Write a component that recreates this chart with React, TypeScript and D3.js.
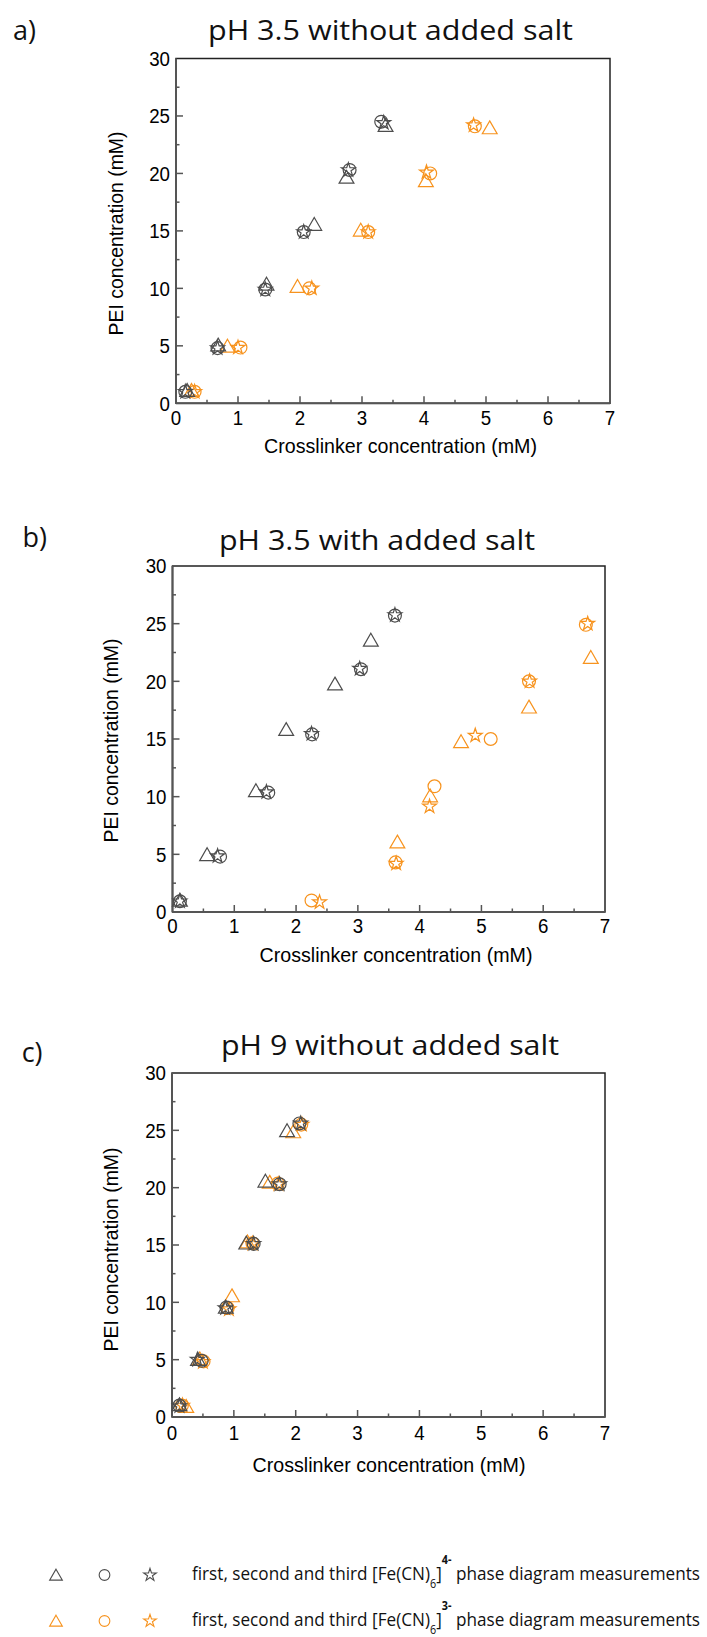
import React from "react";
import * as d3 from "d3";

type Pt = [number, number];

const xTicks = [0, 1, 2, 3, 4, 5, 6, 7];
const yTicks = [0, 5, 10, 15, 20, 25, 30];
const xMinorTicks = [0.5, 1.5, 2.5, 3.5, 4.5, 5.5, 6.5];
const yMinorTicks = [2.5, 7.5, 12.5, 17.5, 22.5, 27.5];

const panelLetters = ["a)", "b)", "c)"];
const panelTitles = ["pH 3.5 without added salt", "pH 3.5 with added salt", "pH 9 without added salt"];
const xAxisTitle = "Crosslinker concentration (mM)";
const yAxisTitle = "PEI concentration (mM)";

// a) pH 3.5 without added salt
const aFe4Tri: Pt[] = [[0.18, 1.15], [0.68, 5.1], [1.46, 10.4], [2.23, 15.6], [2.75, 19.7], [3.38, 24.2]];
const aFe4Circ: Pt[] = [[0.15, 1.0], [0.67, 4.8], [1.44, 9.9], [2.06, 14.9], [2.8, 20.3], [3.31, 24.5]];
const aFe4Star: Pt[] = [[0.15, 1.0], [0.67, 4.8], [1.44, 9.9], [2.06, 14.9], [2.78, 20.3], [3.35, 24.4]];
const aFe3Tri: Pt[] = [[0.25, 1.15], [0.83, 5.0], [1.96, 10.2], [2.98, 15.1], [4.03, 19.4], [5.06, 24.0]];
const aFe3Circ: Pt[] = [[0.3, 1.0], [1.04, 4.85], [2.15, 10.0], [3.1, 14.9], [4.1, 20.0], [4.82, 24.1]];
const aFe3Star: Pt[] = [[0.3, 1.0], [1.0, 4.85], [2.19, 10.0], [3.1, 14.9], [4.04, 20.1], [4.8, 24.2]];

// b) pH 3.5 with added salt
const bFe4Tri: Pt[] = [[0.12, 1.05], [0.56, 5.0], [1.35, 10.55], [1.84, 15.85], [2.63, 19.8], [3.21, 23.6]];
const bFe4Circ: Pt[] = [[0.12, 0.93], [0.77, 4.8], [1.55, 10.35], [2.26, 15.4], [3.05, 21.05], [3.6, 25.7]];
const bFe4Star: Pt[] = [[0.12, 0.93], [0.73, 4.85], [1.52, 10.4], [2.25, 15.45], [3.03, 21.1], [3.6, 25.75]];
const bFe3Tri: Pt[] = [[3.64, 6.1], [4.17, 10.1], [4.67, 14.8], [5.77, 17.8], [6.77, 22.1]];
const bFe3Circ: Pt[] = [[2.25, 1.0], [3.61, 4.3], [4.24, 10.9], [5.15, 15.0], [5.77, 20.0], [6.69, 24.9]];
const bFe3Star: Pt[] = [[2.38, 0.85], [3.62, 4.2], [4.16, 9.15], [4.9, 15.3], [5.78, 20.0], [6.72, 25.0]];

// c) pH 9 without added salt
const cFe4Tri: Pt[] = [[0.12, 1.1], [0.42, 5.05], [0.87, 9.6], [1.2, 15.2], [1.51, 20.6], [1.86, 25.0]];
const cFe4Circ: Pt[] = [[0.12, 1.0], [0.48, 4.9], [0.88, 9.55], [1.32, 15.1], [1.74, 20.3], [2.06, 25.6]];
const cFe4Star: Pt[] = [[0.12, 0.95], [0.41, 5.0], [0.86, 9.5], [1.32, 15.1], [1.74, 20.3], [2.08, 25.6]];
const cFe3Tri: Pt[] = [[0.23, 0.95], [0.45, 5.1], [0.97, 10.6], [1.22, 15.3], [1.58, 20.5], [1.96, 24.9]];
const cFe3Circ: Pt[] = [[0.16, 1.0], [0.51, 4.85], [0.9, 9.5], [1.3, 15.15], [1.71, 20.35], [2.09, 25.5]];
const cFe3Star: Pt[] = [[0.17, 1.0], [0.5, 4.8], [0.92, 9.4], [1.3, 15.1], [1.72, 20.3], [2.1, 25.5]];

const legendText = ["first, second and third [Fe(CN)", "6", "]", " phase diagram measurements"];
const legendCharges = ["4-", "3-"];

const GRAY = "#4d4d4d";
const ORANGE = "#f7931e";

const shapes = {
  tri: d3.symbol().type(d3.symbolTriangle).size(95)(),
  circ: d3.symbol().type(d3.symbolCircle).size(130)(),
  star: d3.symbol().type(d3.symbolStar).size(60)(),
};
const legendShapes = {
  tri: d3.symbol().type(d3.symbolTriangle).size(70)(),
  circ: d3.symbol().type(d3.symbolCircle).size(90)(),
  star: d3.symbol().type(d3.symbolStar).size(50)(),
};

type Shape = "tri" | "circ" | "star";
interface Series { data: Pt[]; shape: Shape; color: string }

const panelSeries: Series[][] = [
  [
    { data: aFe3Tri, shape: "tri", color: ORANGE },
    { data: aFe3Circ, shape: "circ", color: ORANGE },
    { data: aFe3Star, shape: "star", color: ORANGE },
    { data: aFe4Tri, shape: "tri", color: GRAY },
    { data: aFe4Circ, shape: "circ", color: GRAY },
    { data: aFe4Star, shape: "star", color: GRAY },
  ],
  [
    { data: bFe3Tri, shape: "tri", color: ORANGE },
    { data: bFe3Circ, shape: "circ", color: ORANGE },
    { data: bFe3Star, shape: "star", color: ORANGE },
    { data: bFe4Tri, shape: "tri", color: GRAY },
    { data: bFe4Circ, shape: "circ", color: GRAY },
    { data: bFe4Star, shape: "star", color: GRAY },
  ],
  [
    { data: cFe3Tri, shape: "tri", color: ORANGE },
    { data: cFe3Circ, shape: "circ", color: ORANGE },
    { data: cFe3Star, shape: "star", color: ORANGE },
    { data: cFe4Tri, shape: "tri", color: GRAY },
    { data: cFe4Circ, shape: "circ", color: GRAY },
    { data: cFe4Star, shape: "star", color: GRAY },
  ],
];

// page layout of the three panels
const layout = [
  { left: 176, right: 610, top: 58.5, bottom: 403.3, letterX: 13, letterY: 40, titleX: 208, titleW: 365, titleY: 40, ylabX: 123, ylabY: 233.5, xlabX: 400.5, xlabY: 453, tickDy: 22 },
  { left: 172.5, right: 605, top: 566, bottom: 912, letterX: 22.6, letterY: 547, titleX: 219, titleW: 316, titleY: 550, ylabX: 118, ylabY: 740.5, xlabX: 396, xlabY: 961.7, tickDy: 21 },
  { left: 172, right: 605, top: 1073, bottom: 1417, letterX: 21.7, letterY: 1062, titleX: 221, titleW: 338, titleY: 1055, ylabX: 118, ylabY: 1249.5, xlabX: 389, xlabY: 1471.7, tickDy: 23 },
];

const tickFont = "'Liberation Sans', Arial, sans-serif";
const titleFont = "'Open Sans', 'Noto Sans', sans-serif";

function Panel({ idx }: { idx: number }) {
  const L = layout[idx];
  const x = d3.scaleLinear().domain([0, 7]).range([L.left, L.right]);
  const y = d3.scaleLinear().domain([0, 30]).range([L.bottom, L.top]);
  return (
    <g>
      <text x={L.letterX} y={L.letterY} fontFamily={titleFont} fontSize={27} fill="#111">{panelLetters[idx]}</text>
      <text x={L.titleX} y={L.titleY} fontFamily={titleFont} fontSize={27} fill="#111"
        textLength={L.titleW} lengthAdjust="spacingAndGlyphs">{panelTitles[idx]}</text>

      <rect x={L.left} y={L.top} width={L.right - L.left} height={L.bottom - L.top} fill="none" stroke="#222" strokeWidth={1.5} />
      <line x1={L.left} x2={L.left} y1={L.top} y2={L.bottom} stroke="#555" strokeWidth={2} />
      <line x1={L.left} x2={L.right} y1={L.bottom} y2={L.bottom} stroke="#555" strokeWidth={2} />

      {xTicks.slice(1, -1).map((t) => (
        <line key={"xt" + t} x1={x(t)} x2={x(t)} y1={L.bottom} y2={L.bottom - 7} stroke="#555" strokeWidth={1.5} />
      ))}
      {xMinorTicks.map((t) => (
        <line key={"xm" + t} x1={x(t)} x2={x(t)} y1={L.bottom} y2={L.bottom - 3.5} stroke="#555" strokeWidth={1.5} />
      ))}
      {yTicks.slice(1, -1).map((t) => (
        <line key={"yt" + t} x1={L.left} x2={L.left + 7} y1={y(t)} y2={y(t)} stroke="#555" strokeWidth={1.5} />
      ))}
      {yMinorTicks.map((t) => (
        <line key={"ym" + t} x1={L.left} x2={L.left + 3.5} y1={y(t)} y2={y(t)} stroke="#555" strokeWidth={1.5} />
      ))}

      {xTicks.map((t) => (
        <text key={"xl" + t} x={x(t)} y={L.bottom + L.tickDy} textAnchor="middle" fontFamily={tickFont} fontSize={20} fill="#000"
          textLength={String(t).length * 10.4} lengthAdjust="spacingAndGlyphs">{t}</text>
      ))}
      {yTicks.map((t) => (
        <text key={"yl" + t} x={L.left - 6} y={y(t)} dy="0.36em" textAnchor="end" fontFamily={tickFont} fontSize={20} fill="#000"
          textLength={String(t).length * 10.4} lengthAdjust="spacingAndGlyphs">{t}</text>
      ))}

      <text x={L.xlabX} y={L.xlabY} textAnchor="middle" fontFamily={tickFont} fontSize={21} fill="#000"
        textLength={273} lengthAdjust="spacingAndGlyphs">{xAxisTitle}</text>
      <text transform={`translate(${L.ylabX},${L.ylabY}) rotate(-90)`} textAnchor="middle" fontFamily={tickFont} fontSize={21} fill="#000"
        textLength={204} lengthAdjust="spacingAndGlyphs">{yAxisTitle}</text>

      {panelSeries[idx].map((s, si) => (
        <g key={"s" + si}>
          {s.data.map((d, di) => (
            <path key={di} d={shapes[s.shape] as string}
              transform={`translate(${x(d[0])},${y(d[1]) + (s.shape === "tri" ? 2 : 0)})`}
              fill="none" stroke={s.color} strokeWidth={1.2} />
          ))}
        </g>
      ))}
    </g>
  );
}

function LegendRow({ yRow, color, charge }: { yRow: number; color: string; charge: string }) {
  const f = "'Open Sans', 'Noto Sans', sans-serif";
  return (
    <g>
      <path d={legendShapes.tri as string} transform={`translate(56,${yRow + 1.5})`} fill="none" stroke={color} strokeWidth={1.1} />
      <path d={legendShapes.circ as string} transform={`translate(104.5,${yRow})`} fill="none" stroke={color} strokeWidth={1.1} />
      <path d={legendShapes.star as string} transform={`translate(150,${yRow})`} fill="none" stroke={color} strokeWidth={1.1} />
      <text x={192} y={yRow + 5} fontFamily={f} fontSize={19} fill="#111" textLength={508} lengthAdjust="spacingAndGlyphs">
        {legendText[0]}
        <tspan dy={8} fontSize={12}>{legendText[1]}</tspan>
        <tspan dy={-8} fontSize={19}>{legendText[2]}</tspan>
        <tspan dy={-16} fontSize={12} fontWeight="bold">{charge}</tspan>
        <tspan dy={16} fontSize={19}>{legendText[3]}</tspan>
      </text>
    </g>
  );
}

export default function App() {
  return (
    <div style={{ position: "absolute", left: 0, top: 0 }}>
      <svg width={707} height={1637} style={{ display: "block", background: "#fff" }}>
        <Panel idx={0} />
        <Panel idx={1} />
        <Panel idx={2} />
        <LegendRow yRow={1575} color={GRAY} charge={legendCharges[0]} />
        <LegendRow yRow={1621} color={ORANGE} charge={legendCharges[1]} />
      </svg>
    </div>
  );
}
